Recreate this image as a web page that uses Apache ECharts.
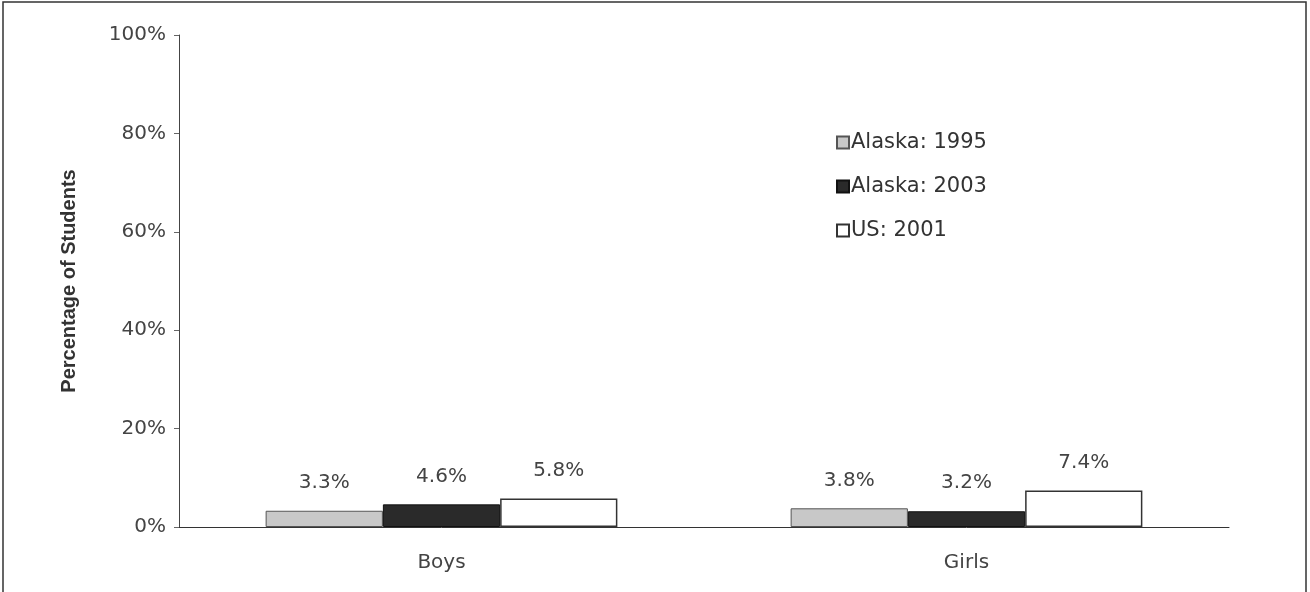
<!DOCTYPE html>
<html><head><meta charset="utf-8">
<script src="https://cdn.jsdelivr.net/npm/echarts@6/dist/echarts.min.js"></script>
<style>html,body{margin:0;padding:0;background:#fff}#c{width:1310px;height:592px}</style>
</head><body><div id="c"></div>
<script>
const categories = ['Boys', 'Girls'];
const seriesNames = ['Alaska: 1995', 'Alaska: 2003', 'US: 2001'];
const alaska1995 = [3.3, 3.8];
const alaska2003 = [4.6, 3.2];
const us2001 = [5.8, 7.4];
const yTicks = [0, 20, 40, 60, 80, 100];

const font = 'DejaVu Sans, sans-serif';
const chart = echarts.init(document.getElementById('c'));
const labelCfg = {show: true, position: 'top', distance: 18, formatter: p => p.value.toFixed(1) + '%', color: '#444', fontSize: 20, fontFamily: font};
chart.setOption({
  animation: false,
  backgroundColor: '#fff',
  grid: {left: 179, right: 81, top: 35, bottom: 65},
  legend: {
    orient: 'vertical', left: 831, top: 127, itemWidth: 12, itemHeight: 12, itemGap: 23, icon: 'rect',
    textStyle: {fontSize: 21, fontFamily: font, color: '#333', padding: [0,0,0,-3]},
    data: seriesNames
  },
  xAxis: {
    type: 'category', data: categories,
    axisLine: {lineStyle: {color: '#333', width: 1}},
    axisTick: {show: false},
    axisLabel: {fontSize: 20, fontFamily: font, color: '#444', margin: 26}
  },
  yAxis: {
    type: 'value', min: 0, max: 100, interval: 20,
    name: 'Percentage of Students', nameLocation: 'middle', nameGap: 100,
    nameTextStyle: {fontSize: 20, fontWeight: 'bold', fontFamily: 'Liberation Sans, Arial, sans-serif', color: '#333'},
    axisLine: {show: true, lineStyle: {color: '#444'}},
    axisTick: {show: true, length: 5, lineStyle: {color: '#666'}},
    splitLine: {show: false},
    axisLabel: {fontSize: 20, fontFamily: font, color: '#444', margin: 13, formatter: v => yTicks.includes(v) ? v + '%' : ''}
  },
  series: [
    {name: seriesNames[0], type: 'bar', data: alaska1995, barGap: '0%', barCategoryGap: '33%',
     itemStyle: {color: '#c8c8c8', borderColor: '#555', borderWidth: 1}, label: labelCfg},
    {name: seriesNames[1], type: 'bar', data: alaska2003,
     itemStyle: {color: '#2a2a2a', borderColor: '#111', borderWidth: 1}, label: labelCfg},
    {name: seriesNames[2], type: 'bar', data: us2001,
     itemStyle: {color: '#ffffff', borderColor: '#333', borderWidth: 1.5}, label: labelCfg}
  ],
  graphic: [{type: 'rect', shape: {x: 3, y: 2, width: 1303, height: 600}, style: {fill: 'none', stroke: '#333', lineWidth: 1.5}}]
});
</script></body></html>
